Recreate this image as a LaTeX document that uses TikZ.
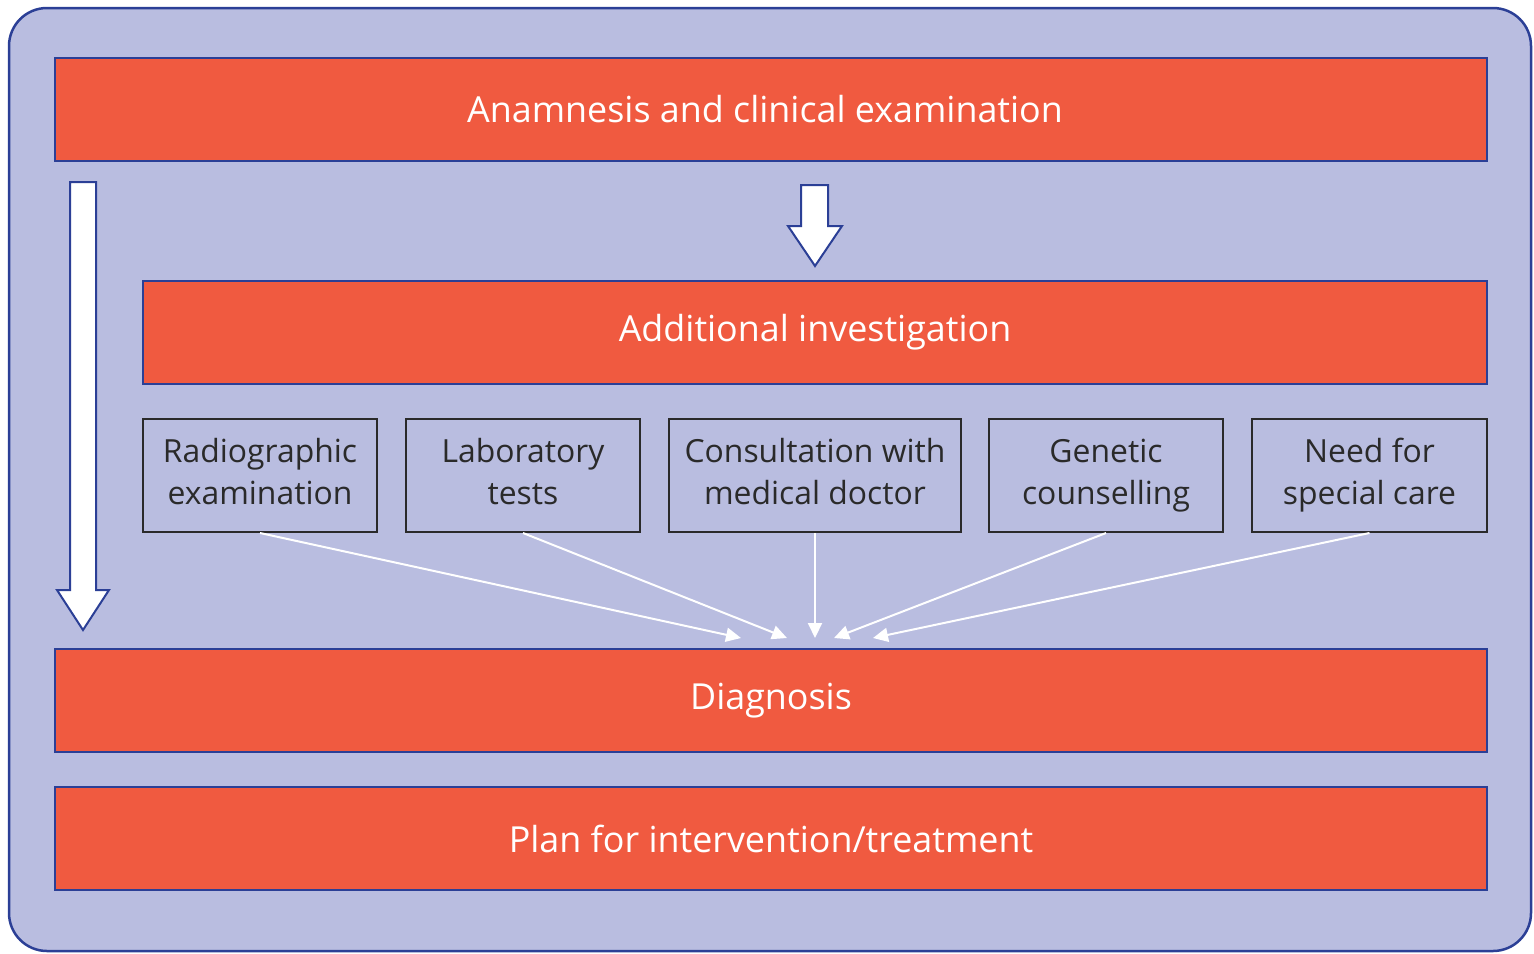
\documentclass[tikz,border=0pt]{standalone}
\usepackage{fontspec}
\setmainfont{Open Sans}
\usetikzlibrary{arrows.meta}
\definecolor{bgl}{HTML}{B9BDE0}
\definecolor{redb}{HTML}{F05A40}
\definecolor{blueo}{HTML}{2B3F96}
\definecolor{darkt}{HTML}{2A2A2A}
\tikzset{
  mainbox/.style={draw=blueo, line width=2bp, fill=redb, text=white, minimum height=103bp, inner sep=0pt, font=\fontsize{36}{40}\selectfont},
  subbox/.style={draw=darkt, line width=2bp, minimum height=113bp, inner sep=0pt, text=darkt, align=center, font=\fontsize{32}{42}\selectfont},
  thinarrow/.style={draw=white, line width=2bp, -{Triangle[width=14bp,length=15bp]}},
  fatarrow/.style={draw=blueo, line width=2bp, fill=white, line join=miter}
}
\begin{document}
\begin{tikzpicture}[x=1bp,y=-1bp]
\useasboundingbox (0,0) rectangle (1534,953);
\draw[blueo, line width=2.5bp, fill=bgl, rounded corners=38bp] (9,8) rectangle (1531,951);
\node[mainbox, minimum width=1432bp] (anam) at (771,109.5) {Anamnesis and clinical examination\hspace*{12bp}};
\node[mainbox, minimum width=1344bp] (addi) at (815,332.5) {Additional investigation};
\node[subbox, minimum width=234bp] (radio) at (260,475.5) {\strut Radiographic\\\strut examination};
\node[subbox, minimum width=234bp] (lab) at (523,475.5) {\strut Laboratory\\\strut tests};
\node[subbox, minimum width=292bp] (cons) at (815,475.5) {\strut Consultation with\\\strut medical doctor};
\node[subbox, minimum width=234bp] (gen) at (1106,475.5) {\strut Genetic\\\strut counselling};
\node[subbox, minimum width=235bp] (need) at (1369.5,475.5) {\strut Need for\\\strut special care};
\node[mainbox, minimum width=1432bp] (diag) at (771,700.5) {Diagnosis};
\node[mainbox, minimum width=1432bp] (plan) at (771,838.5) {Plan for intervention/treatment};
% big left arrow
\draw[fatarrow] (70,182) -- (96,182) -- (96,590) -- (109,590) -- (83,630) -- (57,590) -- (70,590) -- cycle;
% middle arrow
\draw[fatarrow] (801,185) -- (828,185) -- (828,226) -- (842,226) -- (815,266) -- (788,226) -- (801,226) -- cycle;
% thin arrows
\coordinate (t1) at (741,638);
\coordinate (t2) at (787,638);
\coordinate (t3) at (815,638);
\coordinate (t4) at (834,638);
\coordinate (t5) at (873,638);
\draw[thinarrow] (radio.south) -- (t1);
\draw[thinarrow] (lab.south) -- (t2);
\draw[thinarrow] (cons.south) -- (t3);
\draw[thinarrow] (gen.south) -- (t4);
\draw[thinarrow] (need.south) -- (t5);
\end{tikzpicture}
\end{document}
